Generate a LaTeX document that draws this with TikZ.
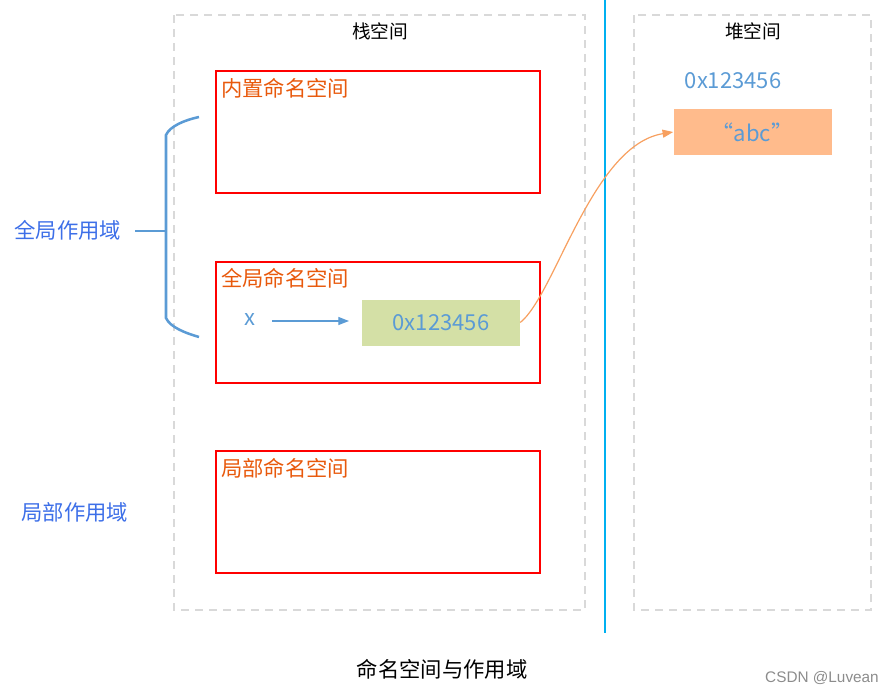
\documentclass[tikz,border=0pt]{standalone}
\usepackage{fontspec}
\newfontfamily\cjk{Noto Sans CJK SC}
\newfontfamily\wm{Liberation Sans}
\usetikzlibrary{arrows.meta}
\definecolor{dashgray}{HTML}{D9D9D9}
\definecolor{sepblue}{HTML}{00B0F0}
\definecolor{nsred}{HTML}{FF0000}
\definecolor{nsorange}{HTML}{E8590C}
\definecolor{valblue}{HTML}{5B9BD5}
\definecolor{scopeblue}{HTML}{3D6FE8}
\definecolor{greenfill}{HTML}{D4E0A6}
\definecolor{orangefill}{HTML}{FFBB8C}
\definecolor{curveorange}{HTML}{F7A060}
\tikzset{
  area/.style={draw=dashgray, line width=1.6pt, dash pattern=on 6pt off 4.5pt},
  nsbox/.style={draw=nsred, line width=1.9pt},
  nslabel/.style={font=\cjk\fontsize{16pt}{18pt}\selectfont, text=nsorange, anchor=west, inner sep=0pt},
  areatitle/.style={font=\cjk\fontsize{14pt}{16pt}\selectfont, text=black, inner sep=0pt},
  scopelabel/.style={font=\cjk\fontsize{16pt}{18pt}\selectfont, text=scopeblue, inner sep=0pt},
  valtext/.style={font=\cjk\fontsize{16.5pt}{18pt}\selectfont, text=valblue},
  cell/.style={minimum width=118.5pt, minimum height=34.5pt, inner sep=0pt},
}
\begin{document}
\begin{tikzpicture}[x=0.75pt, y=-0.75pt]
\useasboundingbox (0,0) rectangle (890,696);
% areas
\draw[area] (174,15) rectangle (585,610);
\draw[area] (634,15) rectangle (871,610);
\draw[sepblue, line width=2.2pt] (605,0) -- (605,633);
\node[areatitle] (stacktitle) at (380,31) {栈空间};
\node[areatitle] (heaptitle) at (753,31) {堆空间};
% namespace boxes
\draw[nsbox] (216,71) rectangle (540,193);
\draw[nsbox] (216,262) rectangle (540,383);
\draw[nsbox] (216,451) rectangle (540,573);
\node[nslabel] (builtin) at (221,88) {内置命名空间};
\node[nslabel] (global) at (221,278) {全局命名空间};
\node[nslabel] (local) at (221,468) {局部命名空间};
% x and value
\node[valtext, inner sep=0pt] (x) at (250,320) {x};
\node[cell, fill=greenfill, valtext] (addr) at (441,322.5) {0x123456};
\coordinate (xarrow) at (272,321);
\draw[valblue, line width=0.9pt, -{Triangle[length=8pt,width=6pt]}] (xarrow) -- (349,321);
% heap
\node[valtext, inner sep=0pt] (heapaddr) at (733,81) {0x123456};
\node[cell, fill=orangefill, valtext] (abc) at (752.5,132) {“abc”};
\draw[curveorange, line width=0.9pt, -{Triangle[length=8pt,width=6pt]}]
  (addr.east) .. controls (555,295) and (592,145) .. (abc.west);
% brace
\draw[valblue, line width=1.9pt] (199,117) .. controls (185,120) and (170,126) .. (166,135)
  -- (166,318) .. controls (170,327) and (185,333) .. (199,337);
\draw[valblue, line width=1.9pt] (135,231) -- (166,231);
\node[scopelabel] (globalscope) at (68,230) {全局作用域};
\node[scopelabel] (localscope) at (75,512) {局部作用域};
% caption
\node[font=\cjk\fontsize{16pt}{18pt}\selectfont, inner sep=0pt] (caption) at (442,669) {命名空间与作用域};
\node[font=\wm\fontsize{11.5pt}{14pt}\selectfont, text=black!45, inner sep=0pt] (wmark) at (822,678) {CSDN @Luvean};
\end{tikzpicture}
\end{document}
